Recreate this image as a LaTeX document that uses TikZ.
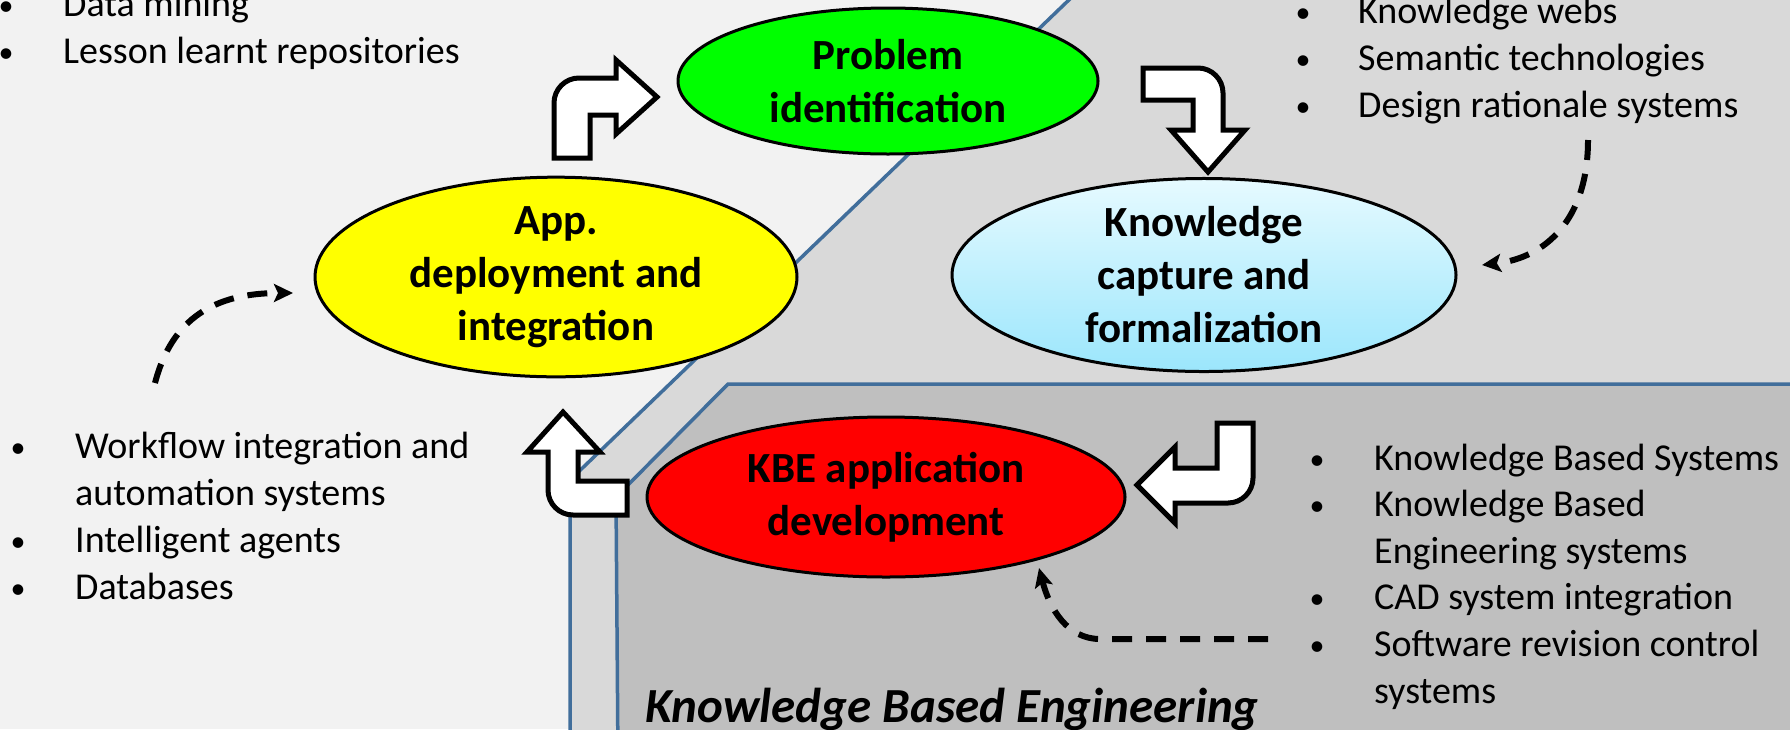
\documentclass[tikz,border=0pt]{standalone}
\usepackage{fontspec}
\setmainfont{Carlito}
\usetikzlibrary{shapes.geometric,arrows.meta}

\definecolor{bgpale}{RGB}{242,242,242}
\definecolor{layermid}{RGB}{217,217,217}
\definecolor{layerkbe}{RGB}{191,191,191}
\definecolor{layerline}{RGB}{65,110,155}
\definecolor{phasegreen}{RGB}{0,255,0}
\definecolor{phaseyellow}{RGB}{255,255,0}
\definecolor{phasered}{RGB}{255,0,0}
\definecolor{icetop}{RGB}{230,250,255}
\definecolor{icebottom}{RGB}{155,230,252}

% small list bullet, centred on the start of its column
\newcommand{\listdot}{\makebox[0pt]{\raisebox{1pt}{\fontsize{30}{30}\selectfont\textbullet}}}

\begin{document}
\begin{tikzpicture}[x=1pt,y=-1pt,
  phase/.style={ellipse, draw=black, line width=3pt, inner sep=0pt, align=center,
    font=\bfseries\fontsize{43}{53}\selectfont},
  layer/.style={draw=layerline, line width=3.5pt, line join=miter},
  bentarrow/.style={draw=black, fill=white, line width=5pt, line join=miter},
  dasharrow/.style={draw=black, line width=6pt, dash pattern=on 20pt off 14pt,
    -{Stealth[length=19pt,width=18pt,inset=4pt]}},
  toollist/.style={anchor=base west, inner sep=0pt,
    font=\fontsize{38}{47}\selectfont}
]
\useasboundingbox (0,0) rectangle (1790,729);
\clip (0,0) rectangle (1790,729);

% background and the two nested layers
\fill[bgpale] (0,0) rectangle (1790,729);
\path[layer, fill=layermid] (570,760) -- (570,480) -- (1100,-30) -- (1830,-30) -- (1830,760) -- cycle;
\path[layer, fill=layerkbe] (618,760) -- (616,497) -- (728,384) -- (1830,384) -- (1830,760) -- cycle;

% lifecycle phases
\node[phase, fill=phasegreen, minimum width=420pt, minimum height=146pt] (problem) at (888,81) {Problem\\identification};
\node[phase, fill=phaseyellow, minimum width=482pt, minimum height=170pt] (deploy) at (556,277) {App.\\deployment and\\integration};
\node[phase, top color=icetop, bottom color=icebottom, minimum width=504pt, minimum height=184pt] (capture) at (1204,275) {Knowledge\\capture and\\formalization};
\node[phase, fill=phasered, minimum width=478pt, minimum height=160pt] (kbe) at (886,497) {KBE application\\development};

% bent block arrows between phases
\path[bentarrow] (554,158) -- (554,103) .. controls (554,89.2) and (565.2,78) .. (579,78)
  -- (616,78) -- (616,60) -- (657,97) -- (616,134) -- (616,115) -- (590,115) -- (590,158) -- cycle;
\path[bentarrow] (1143,68) -- (1198,68) .. controls (1211.8,68) and (1223,79.2) .. (1223,93)
  -- (1223,130) -- (1245,130) -- (1208,172) -- (1171,130) -- (1193,130) -- (1193,100) -- (1143,100) -- cycle;
\path[bentarrow] (1253,423) -- (1253,478) .. controls (1253,491.8) and (1241.8,503) .. (1228,503)
  -- (1175,503) -- (1175,523) -- (1137,485) -- (1175,447) -- (1175,468) -- (1217,468) -- (1217,423) -- cycle;
\path[bentarrow] (627,481) -- (578,481) -- (578,452) -- (600,452) -- (563,412) -- (527,452) -- (548,452)
  -- (548,490) .. controls (548,503.8) and (559.2,515) .. (573,515) -- (627,515) -- cycle;

% supporting technologies
\node[toollist] (tlist) at (6,16) {\begin{tabular}[t]{@{}p{57pt}@{}l@{}}
  \listdot & Data mining\\
  \listdot & Lesson learnt repositories
\end{tabular}};
\node[toollist] (trlist) at (1303,23) {\begin{tabular}[t]{@{}p{55pt}@{}l@{}}
  \listdot & Knowledge webs\\
  \listdot & Semantic technologies\\
  \listdot & Design rationale systems
\end{tabular}};
\node[toollist] (bllist) at (18,458) {\begin{tabular}[t]{@{}p{57pt}@{}l@{}}
  \listdot & Workflow integration and\\
   & automation systems\\
  \listdot & Intelligent agents\\
  \listdot & Databases
\end{tabular}};
\node[toollist, font=\fontsize{38}{46.6}\selectfont] (brlist) at (1317,470) {\begin{tabular}[t]{@{}p{57pt}@{}l@{}}
  \listdot & Knowledge Based Systems\\
  \listdot & Knowledge Based\\
   & Engineering systems\\
  \listdot & CAD system integration\\
  \listdot & Software revision control\\
   & systems
\end{tabular}};

\node[anchor=base west, inner sep=0pt, font=\bfseries\itshape\fontsize{49}{58}\selectfont] (kbelabel) at (645,722) {Knowledge Based Engineering};

% dashed links from technologies to phases
\coordinate (d1s) at (155,383);
\coordinate (d1e) at (293,293);
\draw[dasharrow] (d1s) .. controls (172,318) and (215,293) .. (d1e);
\coordinate (d2s) at (1588,140);
\coordinate (d2e) at (1482,265);
\draw[dasharrow] (d2s) .. controls (1588,220) and (1545,258) .. (d2e);
\coordinate (d3s) at (1268,639);
\coordinate (d3m) at (1100,639);
\coordinate (d3e) at (1039,568);
\draw[dasharrow] (d3s) -- (d3m) .. controls (1068,639) and (1050,610) .. (d3e);
\end{tikzpicture}
\end{document}
